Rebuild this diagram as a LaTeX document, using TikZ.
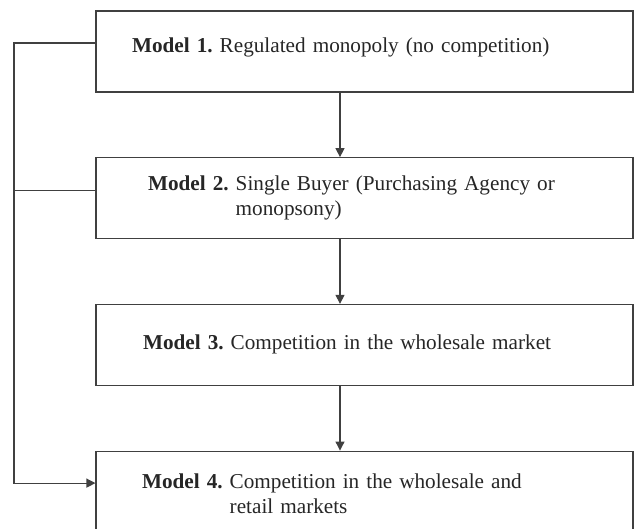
\documentclass[tikz,border=0pt]{standalone}
\usepackage{fontspec}
\setmainfont{Liberation Serif}
\usetikzlibrary{arrows.meta}

\tikzset{
  modelbox/.style={draw=black!75, line width=1.1pt, rectangle, minimum width=537pt, minimum height=81pt,
    inner sep=0pt, align=left, font=\fontsize{21.2}{25}\selectfont, text=black!85},
  link/.style={draw=black!75, line width=1.1pt},
  flow/.style={link, -{Triangle[length=9pt,width=9pt]}}
}
\newcommand{\twoline}[3]{\begin{tabular}{@{}l@{\ }l@{}}\textbf{Model #1.} & #2\\ & #3\end{tabular}}
\newcommand{\oneline}[2]{\begin{tabular}{@{}l@{\ }l@{}}\textbf{Model #1.} & #2\end{tabular}}

\begin{document}
\begin{tikzpicture}[x=1pt, y=-1pt, node distance=146.7pt]
\clip (0,0) rectangle (634,529);
\node  (m1)[modelbox, text width=465pt, text depth=15pt] at (364.5,51.5) {\oneline{1}{Regulated monopoly (no competition)}};
\node  (m2)[modelbox, text width=433pt] [below of = m1] {\twoline{2}{Single Buyer (Purchasing Agency or}{monopsony)}};
\node  (m3)[modelbox, text width=443pt] [below of = m2] {\oneline{3}{Competition in the wholesale market}};
\node  (m4)[modelbox, text width=445pt, text height=38pt] [below of = m3] {\twoline{4}{Competition in the wholesale and}{retail markets}};
\coordinate (bus) at (14,0);
% main chain
\draw[flow] ([xshift=-24.5pt]m1.south) -- ([xshift=-24.5pt]m2.north);
\draw[flow] ([xshift=-24.5pt]m2.south) -- ([xshift=-24.5pt]m3.north);
\draw[flow] ([xshift=-24.5pt]m3.south) -- ([xshift=-24.5pt]m4.north);
% side line
\draw[flow] ([yshift=8.5pt]m1.west) -| ([yshift=8.5pt]m4.west -| bus) -- ([yshift=8.5pt]m4.west);
\draw[link] ([yshift=7.5pt]m2.west) -- ([yshift=7.5pt]m2.west -| bus);
\end{tikzpicture}
\end{document}
